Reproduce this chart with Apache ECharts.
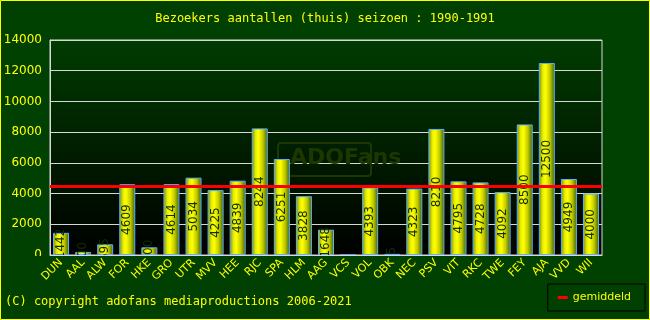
<!DOCTYPE html>
<html><head><meta charset="utf-8">
<script src="https://cdn.jsdelivr.net/npm/echarts@6/dist/echarts.min.js"></script>
<style>html,body{margin:0;padding:0;background:#004000;}#c{width:650px;height:320px;}</style>
</head><body><div id="c"></div>
<script>
const categories = ['DUN','AAL','ALW','FOR','HKE','GRO','UTR','MVV','HEE','RJC','SPA','HLM','AAG','VCS','VOL','OBK','NEC','PSV','VIT','RKC','TWE','FEY','AJA','VVD','WII'];
const visitors = [1442,200,695,4609,500,4614,5034,4225,4839,8244,6251,3828,1648,0,4393,75,4323,8210,4795,4728,4092,8500,12500,4949,4000];
const yTicks = [0,2000,4000,6000,8000,10000,12000,14000];
const titleText = 'Bezoekers aantallen (thuis) seizoen : 1990-1991';
const copyrightText = '(C) copyright adofans mediaproductions 2006-2021';
const legendName = 'gemiddeld';

const played = visitors.filter(v => v > 0);
const average = played.reduce((a,b)=>a+b,0) / played.length;

const chart = echarts.init(document.getElementById('c'), null, {renderer:'canvas'});
const barGrad = new echarts.graphic.LinearGradient(0,0,1,0,[
  {offset:0,color:'#7a8a10'},{offset:0.25,color:'#e8f000'},{offset:0.42,color:'#ffff00'},
  {offset:0.7,color:'#c0c800'},{offset:1,color:'#3a6000'}]);
chart.setOption({
  backgroundColor:'#004000',
  animation:false,
  title:{text:titleText,left:'center',top:8,textStyle:{color:'#ffff00',fontFamily:'DejaVu Sans Mono',fontSize:12,fontWeight:'normal'}},
  grid:{left:50,right:48,top:40,bottom:65,show:true,borderColor:'#d8d8d8',borderWidth:1,
    backgroundColor:new echarts.graphic.LinearGradient(0,0,0,1,[{offset:0,color:'#003c00'},{offset:1,color:'#000000'}])},
  legend:{data:[legendName],right:5,bottom:9,z:15,padding:[8,14,8,10],borderColor:'#000',borderWidth:1,itemGap:6,
    itemWidth:10,itemHeight:3,icon:'rect',textStyle:{color:'#ffff00',fontFamily:'DejaVu Sans',fontSize:11}},
  xAxis:{type:'category',data:categories,z:10,
    axisLine:{lineStyle:{color:'#d8d8d8'}},axisTick:{show:false},
    axisLabel:{rotate:45,color:'#ffff00',fontFamily:'DejaVu Sans',fontSize:11,interval:0,margin:6}},
  yAxis:{type:'value',min:0,max:14000,interval:2000,
    axisLine:{show:true,lineStyle:{color:'#d8d8d8'}},axisTick:{show:false},
    splitLine:{lineStyle:{color:'#d8d8d8'}},
    axisLabel:{color:'#ffff00',fontFamily:'DejaVu Sans',fontSize:12,margin:8,
      formatter:v=>yTicks.includes(v)?String(v):''}},
  graphic:[
    {type:'rect',z:5,shape:{x:1,y:256,width:648,height:63},style:{fill:'#004000'}},
    {type:'rect',z:1,shape:{x:278,y:143,width:93,height:33,r:3},style:{fill:'none',stroke:'#1c3800',lineWidth:2}},
    {type:'text',z:1,left:290,top:147,style:{text:'ADOFans',fill:'#1c3800',stroke:'none',lineWidth:0,font:'bold 22px "DejaVu Sans"'}},
    {type:'text',z:11,left:5,top:296,style:{text:copyrightText,fill:'#ffff00',font:'12px "DejaVu Sans Mono"'}},
    {type:'rect',z:20,shape:{x:0.5,y:0.5,width:649,height:319},style:{fill:'none',stroke:'#ffff00',lineWidth:1}}
  ],
  series:[
    {type:'bar',data:visitors,barWidth:16,z:2,
      itemStyle:{color:barGrad,borderColor:'#60b0ff',borderWidth:1},
      label:{show:true,position:'inside',rotate:90,color:'#103000',fontFamily:'DejaVu Sans',fontSize:12,
        formatter:p=>p.value>0?String(p.value):''}},
    {type:'line',name:legendName,data:[],color:'#ff0000',
      markLine:{symbol:'none',silent:true,label:{show:false},lineStyle:{color:'#ff0000',width:3,type:'solid'},data:[{yAxis:average}]}}
  ]
});
</script></body></html>
